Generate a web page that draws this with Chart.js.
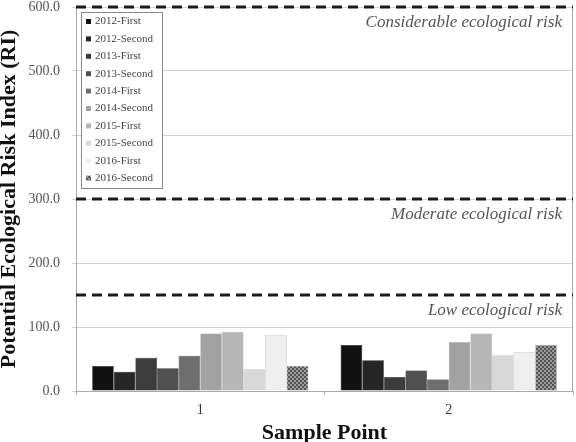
<!DOCTYPE html>
<html>
<head>
<meta charset="utf-8">
<script src="https://cdn.jsdelivr.net/npm/chart.js@4/dist/chart.umd.min.js"></script>
<style>
  html, body { margin: 0; padding: 0; background: #fff; }
  #wrap { width: 576px; height: 442px; }
</style>
</head>
<body>
<div id="wrap"><canvas id="chart"></canvas></div>
<script>
const samplePoints = ['1', '2'];
const seriesNames = ['2012-First', '2012-Second', '2013-First', '2013-Second', '2014-First',
  '2014-Second', '2015-First', '2015-Second', '2016-First', '2016-Second'];
const point1 = [39, 30, 52, 35.5, 55, 90, 92, 34, 87.5, 39];
const point2 = [72, 48, 22, 32, 18, 76.5, 90, 56, 61, 72];
const riskLevels = [600, 300, 150];
const riskLabels = ['Considerable ecological risk', 'Moderate ecological risk', 'Low ecological risk'];

const greys = ['#111111', '#262626', '#3c3c3c', '#505050', '#6e6e6e',
  '#a2a2a2', '#b6b6b6', '#d8d8d8', '#efefef', null];

// checkered fill for the last series
function makePattern() {
  const c = document.createElement('canvas');
  c.width = 4; c.height = 4;
  const g = c.getContext('2d');
  g.fillStyle = '#9a9a9a';
  g.fillRect(0, 0, 4, 4);
  g.fillStyle = '#555555';
  g.fillRect(0, 0, 2, 2);
  g.fillRect(2, 2, 2, 2);
  return g.createPattern(c, 'repeat');
}
const pattern = makePattern();

const datasets = seriesNames.map((name, i) => ({
  label: name,
  data: [point1[i], point2[i]],
  backgroundColor: greys[i] || pattern,
  borderColor: i < 5 ? '#111' : '#aaa',
  borderWidth: 0.5,
  barPercentage: 1,
  categoryPercentage: 0.87
}));

const serif = '"Liberation Serif", "DejaVu Serif", serif';

const riskPlugin = {
  id: 'riskLines',
  beforeDatasetsDraw(chart) {
    const {ctx, chartArea: a} = chart;
    ctx.save();
    ctx.strokeStyle = '#aaa';
    ctx.lineWidth = 1;
    ctx.beginPath();
    ctx.moveTo(a.right - 0.5, a.top);
    ctx.lineTo(a.right - 0.5, a.bottom);
    ctx.stroke();
    ctx.restore();
  },
  afterDatasetsDraw(chart) {
    const {ctx, chartArea: a, scales: {y}} = chart;
    ctx.save();
    riskLevels.forEach((v, i) => {
      const py = y.getPixelForValue(v);
      ctx.strokeStyle = '#1a1a1a';
      ctx.lineWidth = 3;
      ctx.setLineDash([10, 6]);
      ctx.beginPath();
      ctx.moveTo(a.left, py);
      ctx.lineTo(a.right, py);
      ctx.stroke();
      ctx.setLineDash([]);
      ctx.fillStyle = '#555';
      ctx.font = 'italic 17px ' + serif;
      ctx.textAlign = 'right';
      ctx.textBaseline = 'middle';
      ctx.fillText(riskLabels[i], a.right - 11, py + 16);
    });

    // legend box inside plot area
    const x0 = a.left + 5, y0 = a.top + 5, w = 81, rowH = 17.4;
    const h = rowH * seriesNames.length + 2;
    ctx.fillStyle = '#fff';
    ctx.fillRect(x0, y0, w, h);
    ctx.strokeStyle = '#888';
    ctx.lineWidth = 1;
    ctx.strokeRect(x0 + 0.5, y0 + 0.5, w, h);
    ctx.font = '11px ' + serif;
    ctx.textAlign = 'left';
    ctx.textBaseline = 'middle';
    chart.data.datasets.forEach((ds, i) => {
      const cy = y0 + 9.5 + i * rowH;
      ctx.fillStyle = ds.backgroundColor;
      ctx.fillRect(x0 + 5, cy - 2.5, 5, 5);
      ctx.fillStyle = '#444';
      ctx.fillText(ds.label, x0 + 14, cy);
    });
    ctx.restore();
  }
};

new Chart(document.getElementById('chart'), {
  type: 'bar',
  data: { labels: samplePoints, datasets },
  plugins: [riskPlugin],
  options: {
    responsive: true,
    maintainAspectRatio: false,
    animation: false,
    layout: { padding: { top: 0, right: 3, left: 0, bottom: 0 } },
    plugins: { legend: { display: false }, tooltip: { enabled: false } },
    scales: {
      x: {
        grid: { drawOnChartArea: false, tickLength: 4, color: '#aaa' },
        border: { color: '#aaa' },
        ticks: { color: '#333', font: { family: serif, size: 14 }, padding: 7 },
        title: { display: true, text: 'Sample Point', color: '#111',
          font: { family: serif, size: 22, weight: 'bold', lineHeight: 0.75 },
          padding: { top: 0, bottom: 0 } },
        afterFit(s) { s.height = 51; }
      },
      y: {
        min: 0, max: 600,
        ticks: { stepSize: 100, color: '#555', font: { family: serif, size: 14 },
          callback: v => v.toFixed(1), padding: 12 },
        grid: { color: '#d0d0d0', tickLength: 4 },
        border: { color: '#aaa' },
        title: { display: true, text: 'Potential Ecological Risk Index (RI)', color: '#111',
          font: { family: serif, size: 22, weight: 'bold', lineHeight: 0.75 },
          padding: { top: 1, bottom: 0 } },
        afterFit(s) { s.width = 76; s.paddingTop = 7; }
      }
    }
  }
});
</script>
</body>
</html>
